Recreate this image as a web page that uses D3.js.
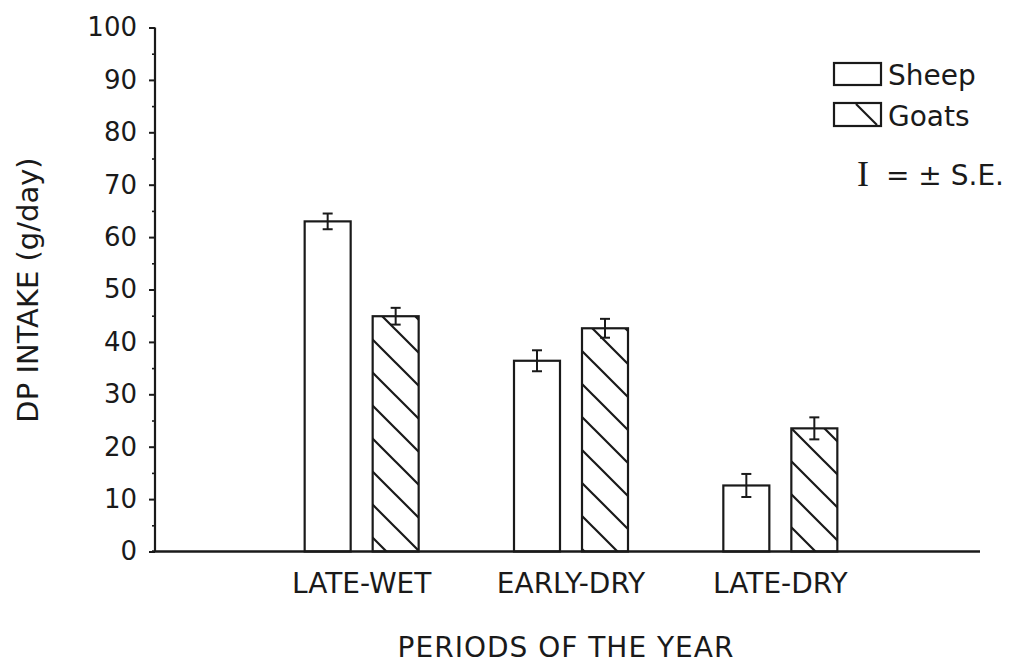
<!DOCTYPE html>
<html>
<head>
<meta charset="utf-8">
<script src="https://cdn.jsdelivr.net/npm/d3@7"></script>
<style>
  html, body { margin: 0; padding: 0; background: #fff; }
  svg { display: block; }
  text { font-family: "DejaVu Sans", sans-serif; fill: #1a1a1a; }
  text.serif { font-family: "Liberation Serif", serif; }
</style>
</head>
<body>
<svg id="chart" width="1022" height="667"></svg>
<script>
const categories = ["LATE-WET", "EARLY-DRY", "LATE-DRY"];
const series = ["Sheep", "Goats"];
const sheepValues = [63.0, 36.4, 12.6];
const goatValues = [44.9, 42.6, 23.5];
const sheepSE = [1.5, 2.0, 2.2];
const goatSE = [1.6, 1.8, 2.1];
const yTicks = [0, 10, 20, 30, 40, 50, 60, 70, 80, 90, 100];
const yMinorTicks = [5, 15, 25, 35, 45, 55, 65, 75, 85, 95];
const yTitle = "DP INTAKE (g/day)";
const xTitle = "PERIODS OF THE YEAR";

const ink = "#1a1a1a";
const svg = d3.select("#chart");

const y = d3.scaleLinear().domain([0, 100]).range([551.5, 27.5]);
const x = d3.scaleBand().domain(categories).range([257, 885]).padding(0);
const sub = d3.scaleBand().domain(series).range([-57, 57]).paddingInner(0.3235).paddingOuter(0);

const axisX0 = 155, axisX1 = 980;

// hatch pattern
const defs = svg.append("defs");
const pat = defs.append("pattern")
  .attr("id", "hatch").attr("patternUnits", "userSpaceOnUse")
  .attr("width", 33).attr("height", 33);
pat.append("rect").attr("width", 33).attr("height", 33).attr("fill", "#fff");
pat.append("path")
  .attr("d", "M0,0 L33,33 M-6,27 L6,39 M27,-6 L39,6")
  .attr("stroke", ink).attr("stroke-width", 2.2).attr("fill", "none");

// data rows
const rows = [];
categories.forEach((c, i) => {
  rows.push({ cat: c, s: "Sheep", v: sheepValues[i], se: sheepSE[i] });
  rows.push({ cat: c, s: "Goats", v: goatValues[i], se: goatSE[i] });
});
const cx = d => x(d.cat) + x.bandwidth() / 2 + sub(d.s);

// bars
svg.append("g").selectAll("rect").data(rows).join("rect")
  .attr("x", d => cx(d))
  .attr("y", d => y(d.v))
  .attr("width", sub.bandwidth())
  .attr("height", d => y(0) - y(d.v))
  .attr("fill", d => d.s === "Sheep" ? "#fff" : "url(#hatch)")
  .attr("stroke", ink).attr("stroke-width", 2.2);

// error bars
const eb = svg.append("g").attr("stroke", ink).attr("stroke-width", 2);
rows.forEach(d => {
  const mx = cx(d) + sub.bandwidth() / 2;
  eb.append("line").attr("x1", mx).attr("x2", mx).attr("y1", y(d.v + d.se)).attr("y2", y(d.v - d.se));
  eb.append("line").attr("x1", mx - 5).attr("x2", mx + 5).attr("y1", y(d.v + d.se)).attr("y2", y(d.v + d.se));
  eb.append("line").attr("x1", mx - 5).attr("x2", mx + 5).attr("y1", y(d.v - d.se)).attr("y2", y(d.v - d.se));
});

// y axis
const yAxis = svg.append("g").attr("transform", `translate(${axisX0},0)`)
  .call(d3.axisLeft(y).tickValues(yTicks).tickSize(6).tickPadding(12).tickFormat(d3.format("d")));
yAxis.select(".domain").remove();
yAxis.selectAll(".tick line").attr("stroke", ink).attr("stroke-width", 2);
yAxis.selectAll(".tick text").attr("font-size", 26).attr("fill", ink);
svg.append("g").attr("transform", `translate(${axisX0},0)`)
  .call(d3.axisLeft(y).tickValues(yMinorTicks).tickSize(3).tickFormat(""))
  .call(g => g.select(".domain").remove())
  .selectAll("line").attr("stroke", ink).attr("stroke-width", 1.6);
svg.append("line").attr("x1", axisX0).attr("x2", axisX0).attr("y1", y(100)).attr("y2", y(0))
  .attr("stroke", ink).attr("stroke-width", 2.2);

// x axis
svg.append("line").attr("x1", axisX0 - 3).attr("x2", axisX1).attr("y1", y(0)).attr("y2", y(0))
  .attr("stroke", ink).attr("stroke-width", 2.4);
svg.append("g").selectAll("text").data(categories).join("text")
  .attr("x", d => x(d) + x.bandwidth() / 2)
  .attr("y", 593)
  .attr("text-anchor", "middle")
  .attr("font-size", 28)
  .text(d => d);

// axis titles
svg.append("text").attr("x", 566).attr("y", 657).attr("text-anchor", "middle")
  .attr("font-size", 28).attr("letter-spacing", 1).text(xTitle);
svg.append("text").attr("transform", "translate(38,290) rotate(-90)").attr("text-anchor", "middle")
  .attr("font-size", 29).text(yTitle);

// legend
const lg = svg.append("g");
lg.append("rect").attr("x", 834).attr("y", 63).attr("width", 47).attr("height", 22)
  .attr("fill", "#fff").attr("stroke", ink).attr("stroke-width", 2.2);
lg.append("text").attr("x", 888).attr("y", 85).attr("font-size", 28).text(series[0]);
lg.append("rect").attr("x", 834).attr("y", 103).attr("width", 47).attr("height", 23)
  .attr("fill", "#fff").attr("stroke", ink).attr("stroke-width", 2.2);
lg.append("line").attr("x1", 856).attr("y1", 104).attr("x2", 877).attr("y2", 125)
  .attr("stroke", ink).attr("stroke-width", 2.2);
lg.append("text").attr("x", 888).attr("y", 126).attr("font-size", 28).text(series[1]);
lg.append("text").attr("class", "serif").attr("x", 857).attr("y", 186).attr("font-size", 36).text("I");
lg.append("text").attr("x", 886).attr("y", 185).attr("font-size", 28).text("= ± S.E.");
</script>
</body>
</html>
